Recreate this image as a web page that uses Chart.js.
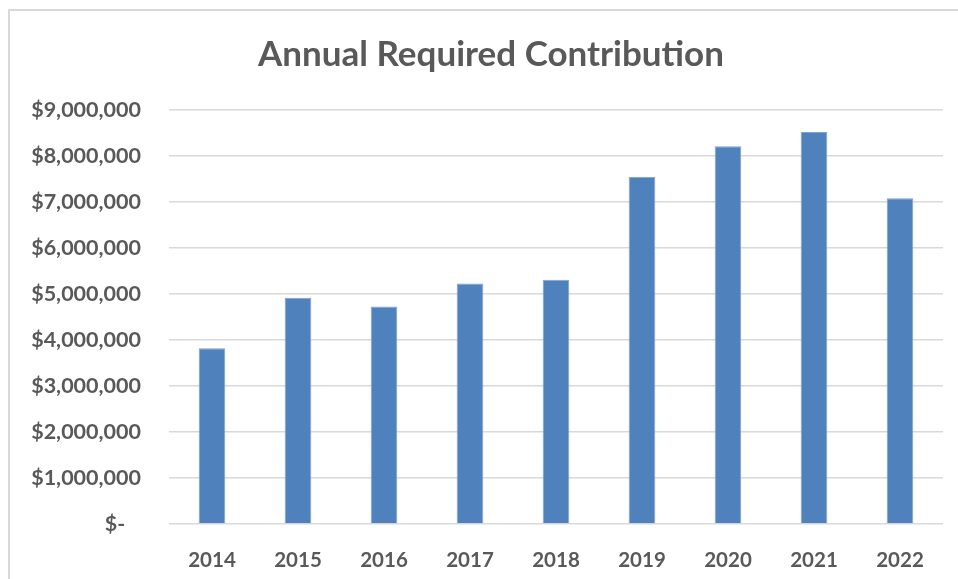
<!DOCTYPE html>
<html lang="en">
<head>
  <meta charset="UTF-8">
  <title>Annual Required Contribution</title>
  <script src="https://cdn.jsdelivr.net/npm/chart.js"></script>
  <style>
    html, body { margin: 0; padding: 0; background: #fff; overflow: hidden; }
    #wrap {
      position: absolute; left: 8px; top: 9px;
      width: 962px; height: 572px;
      border-left: 2px solid #d9d9d9; border-top: 2px solid #d9d9d9;
    }
  </style>
</head>
<body>
  <div id="wrap"><canvas id="arcChart" width="962" height="572"></canvas></div>

  <script>
    // fiscal years and contribution amounts (USD)
    const years = ['2014', '2015', '2016', '2017', '2018', '2019', '2020', '2021', '2022'];
    const contributions = [3820000, 4920000, 4730000, 5230000, 5310000, 7550000, 8210000, 8520000, 7080000];
    const yMax = 9000000;
    const yStep = 1000000;

    const textColor = '#595959';
    const gridColor = '#d9d9d9';

    function money(v) {
      if (v === 0) return '$-   ';
      return '$' + v.toLocaleString('en-US');
    }

    // stretch the title box over the whole canvas so it is centred on the chart box
    const wideTitle = {
      id: 'wideTitle',
      afterLayout(chart) {
        const t = chart.titleBlock;
        if (!t) return;
        t.left = 0;
        t.right = chart.width;
        t.width = chart.width;
      }
    };

    const ctx = document.getElementById('arcChart').getContext('2d');
    new Chart(ctx, {
      type: 'bar',
      data: {
        labels: years,
        datasets: [{
          label: 'Annual Required Contribution',
          data: contributions,
          backgroundColor: '#4f81bd',
          borderColor: '#7fa2cf',
          borderWidth: 1,
          categoryPercentage: 1,
          barPercentage: 0.31
        }]
      },
      options: {
        responsive: false,
        animation: false,
        layout: { padding: { left: 0, right: 29, top: 0, bottom: 0 } },
        plugins: {
          legend: { display: false },
          tooltip: { enabled: false },
          title: {
            display: true,
            text: 'Annual Required Contribution',
            color: textColor,
            font: { family: 'Lato', size: 35, weight: 'bold' },
            padding: { top: 23, bottom: 34 }
          }
        },
        scales: {
          x: {
            grid: { display: false },
            border: { display: false },
            ticks: {
              color: textColor,
              padding: 16,
              font: { family: 'Lato', size: 20.5, weight: 'bold' }
            },
            afterFit: s => { s.height = 59; }
          },
          y: {
            min: 0,
            max: yMax,
            grid: { color: gridColor, lineWidth: 1.5, drawTicks: false },
            border: { display: false },
            ticks: {
              stepSize: yStep,
              color: textColor,
              padding: 28,
              font: { family: 'Lato', size: 21.5, weight: 'bold' },
              callback: v => money(v)
            },
            afterFit: s => { s.width = 159; }
          }
        }
      },
      plugins: [wideTitle]
    });
  </script>
</body>
</html>
